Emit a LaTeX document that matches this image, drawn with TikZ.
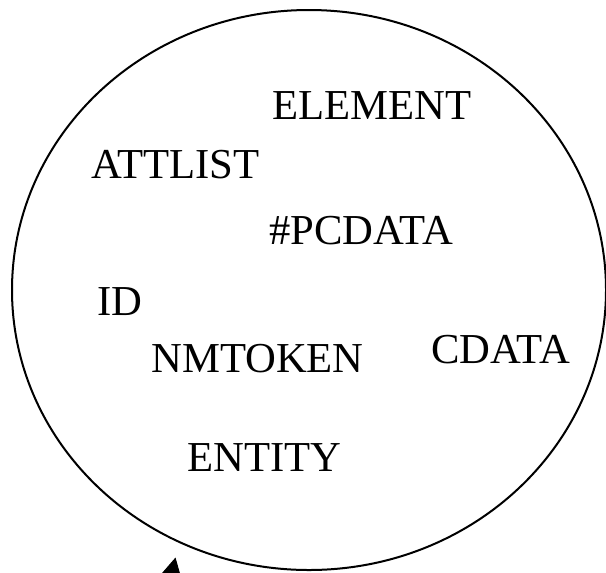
\documentclass[tikz,border=0pt]{standalone}
\usepackage{fontspec}
\setmainfont{Liberation Serif}
\usetikzlibrary{arrows.meta}

\tikzset{
  kw/.style={anchor=base west, inner sep=0pt, font=\fontsize{32}{38}\selectfont},
}

\begin{document}
\begin{tikzpicture}[x=0.75pt,y=0.75pt,yscale=-1,xscale=1]
\useasboundingbox (0,0) rectangle (606,572);

%Ellipse
\draw [line width=1.5] (309,290) ellipse [x radius=297, y radius=280];

% Text Node
\node [kw] (element) at (272,119) {ELEMENT};
% Text Node
\node [kw] (attlist) at (91,178) {ATTLIST};
% Text Node
\node [kw] (pcdata) at (269,244) {\#PCDATA};
% Text Node
\node [kw] (id) at (97,315) {ID};
% Text Node
\node [kw] (nmtoken) at (151,372) {NMTOKEN};
% Text Node
\node [kw] (cdata) at (431,363) {CDATA};
% Text Node
\node [kw] (entity) at (187,471) {ENTITY};

%Arrow (only its head is inside the picture)
\coordinate (tail) at (166,600);
\coordinate (tip) at (175.5,557.5);
\draw [line width=0.75, -{Triangle[length=15, width=16]}] (tail) -- (tip);

\end{tikzpicture}
\end{document}
